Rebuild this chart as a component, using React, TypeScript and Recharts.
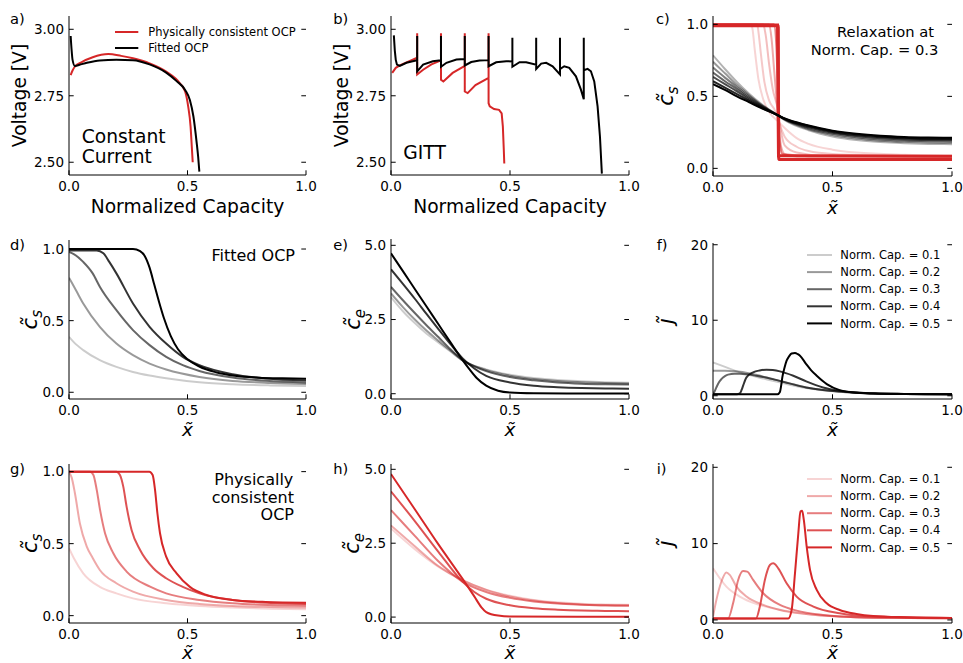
import React from 'react';
import { LineChart, Line, XAxis, YAxis, Legend } from 'recharts';

type P = [number, number];

const RED = '#d62728';
const BLACK = '#000000';
const FONT = '"DejaVu Sans", sans-serif';

// ---------- panel a: constant current ----------
const A_PHYS: P[] = [[0.007,2.828],[0.015,2.845],[0.025,2.86],[0.05,2.875],[0.1,2.895],[0.166,2.907],[0.22,2.9],[0.27,2.891],[0.34,2.872],[0.41,2.841],[0.468,2.797],[0.49,2.766],[0.503,2.709],[0.513,2.634],[0.518,2.56],[0.522,2.5]];
const A_FITTED: P[] = [[0.007,2.975],[0.011,2.922],[0.015,2.885],[0.025,2.862],[0.05,2.868],[0.075,2.874],[0.13,2.883],[0.2,2.885],[0.27,2.884],[0.34,2.868],[0.41,2.837],[0.454,2.805],[0.49,2.772],[0.51,2.734],[0.525,2.672],[0.539,2.571],[0.545,2.52],[0.55,2.465]];

// ---------- panel b: GITT ----------
const B_PHYS: P[] = [[0.005,2.836],[0.02,2.855],[0.037,2.864],[0.077,2.88],[0.11,2.893],[0.11,2.985],[0.11,2.83],[0.135,2.848],[0.17,2.868],[0.21,2.883],[0.21,2.985],[0.21,2.81],[0.22,2.804],[0.259,2.836],[0.31,2.862],[0.31,2.985],[0.31,2.766],[0.322,2.76],[0.355,2.79],[0.41,2.817],[0.41,2.985],[0.41,2.722],[0.415,2.71],[0.433,2.7],[0.454,2.697],[0.465,2.684],[0.47,2.634],[0.474,2.545],[0.476,2.495]];
const B_FITTED: P[] = [[0.012,2.977],[0.016,2.92],[0.02,2.885],[0.025,2.867],[0.037,2.862],[0.065,2.874],[0.11,2.884],[0.11,2.975],[0.11,2.842],[0.135,2.867],[0.176,2.88],[0.21,2.884],[0.21,2.975],[0.21,2.859],[0.233,2.874],[0.275,2.886],[0.31,2.888],[0.31,2.975],[0.31,2.864],[0.337,2.877],[0.372,2.883],[0.41,2.884],[0.41,2.975],[0.41,2.861],[0.442,2.876],[0.484,2.88],[0.51,2.879],[0.51,2.968],[0.51,2.859],[0.54,2.876],[0.568,2.876],[0.61,2.867],[0.61,2.968],[0.61,2.851],[0.631,2.871],[0.652,2.874],[0.679,2.861],[0.71,2.83],[0.71,2.968],[0.71,2.85],[0.728,2.861],[0.749,2.855],[0.777,2.823],[0.798,2.773],[0.81,2.737],[0.81,2.968],[0.81,2.846],[0.826,2.851],[0.84,2.842],[0.854,2.804],[0.868,2.71],[0.878,2.596],[0.886,2.457]];

// ---------- panel c: relaxation at 0.3 ----------
const C_GRAY_1: P[] = [[0,0.785],[0.05,0.69],[0.1,0.6],[0.15,0.52],[0.2,0.45],[0.27,0.37],[0.3,0.335],[0.4,0.265],[0.5,0.222],[0.6,0.197],[0.7,0.183],[0.8,0.175],[0.9,0.17],[1,0.168]];
const C_GRAY_2: P[] = [[0,0.74],[0.05,0.66],[0.1,0.58],[0.15,0.51],[0.2,0.445],[0.27,0.37],[0.3,0.338],[0.4,0.272],[0.5,0.232],[0.6,0.207],[0.7,0.192],[0.8,0.184],[0.9,0.18],[1,0.178]];
const C_GRAY_3: P[] = [[0,0.7],[0.05,0.63],[0.1,0.565],[0.15,0.5],[0.2,0.44],[0.27,0.37],[0.3,0.34],[0.4,0.279],[0.5,0.24],[0.6,0.216],[0.7,0.201],[0.8,0.193],[0.9,0.189],[1,0.187]];
const C_GRAY_4: P[] = [[0,0.665],[0.05,0.605],[0.1,0.55],[0.15,0.49],[0.2,0.435],[0.27,0.37],[0.3,0.342],[0.4,0.285],[0.5,0.247],[0.6,0.224],[0.7,0.209],[0.8,0.201],[0.9,0.197],[1,0.195]];
const C_GRAY_5: P[] = [[0,0.635],[0.05,0.585],[0.1,0.535],[0.15,0.48],[0.2,0.43],[0.27,0.37],[0.3,0.343],[0.4,0.29],[0.5,0.253],[0.6,0.23],[0.7,0.216],[0.8,0.208],[0.9,0.203],[1,0.201]];
const C_GRAY_6: P[] = [[0,0.605],[0.05,0.56],[0.1,0.515],[0.15,0.47],[0.2,0.425],[0.27,0.37],[0.3,0.345],[0.4,0.295],[0.5,0.258],[0.6,0.236],[0.7,0.222],[0.8,0.213],[0.9,0.208],[1,0.206]];
const C_GRAY_7: P[] = [[0,0.585],[0.05,0.545],[0.1,0.5],[0.15,0.46],[0.2,0.42],[0.27,0.37],[0.3,0.346],[0.4,0.298],[0.5,0.262],[0.6,0.24],[0.7,0.226],[0.8,0.218],[0.9,0.214],[1,0.212]];
const C_RED_1: P[] = [[0,1],[0.16,1],[0.165,0.97],[0.175,0.82],[0.19,0.62],[0.21,0.48],[0.24,0.38],[0.27,0.33],[0.3,0.28],[0.35,0.21],[0.4,0.17],[0.5,0.13],[0.6,0.11],[0.8,0.095],[1,0.09]];
const C_RED_2: P[] = [[0,1],[0.185,1],[0.19,0.95],[0.2,0.8],[0.215,0.6],[0.235,0.47],[0.26,0.4],[0.28,0.3],[0.3,0.22],[0.35,0.15],[0.4,0.12],[0.5,0.1],[0.7,0.09],[1,0.085]];
const C_RED_3: P[] = [[0,1],[0.21,1],[0.22,0.93],[0.235,0.72],[0.25,0.55],[0.27,0.42],[0.285,0.25],[0.3,0.16],[0.35,0.11],[0.45,0.09],[1,0.082]];
const C_RED_4: P[] = [[0,1],[0.235,1],[0.245,0.9],[0.255,0.7],[0.265,0.5],[0.275,0.3],[0.285,0.15],[0.3,0.1],[0.4,0.085],[1,0.08]];
const C_RED_5: P[] = [[0,1],[0.255,1],[0.265,0.85],[0.272,0.5],[0.278,0.2],[0.29,0.1],[0.35,0.085],[1,0.085]];
const C_RED_6: P[] = [[0,0.995],[0.27,0.995],[0.272,0.5],[0.274,0.088],[0.3,0.087],[1,0.085]];
const C_RED_7: P[] = [[0,0.99],[0.273,0.99],[0.275,0.062],[1,0.062]];

// ---------- panel d: fitted OCP, c_s ----------
const D_1: P[] = [[0,0.387],[0.02,0.35],[0.06,0.294],[0.13,0.224],[0.2,0.177],[0.27,0.142],[0.34,0.117],[0.41,0.098],[0.55,0.07],[0.69,0.056],[0.85,0.048],[1,0.044]];
const D_2: P[] = [[0,0.8],[0.03,0.71],[0.06,0.62],[0.13,0.457],[0.2,0.34],[0.27,0.259],[0.34,0.2],[0.41,0.159],[0.55,0.107],[0.69,0.079],[0.85,0.065],[1,0.058]];
const D_3: P[] = [[0,0.98],[0.02,0.965],[0.06,0.91],[0.1,0.83],[0.13,0.737],[0.2,0.573],[0.27,0.434],[0.34,0.329],[0.41,0.247],[0.48,0.189],[0.55,0.149],[0.69,0.103],[0.83,0.08],[1,0.068]];
const D_4: P[] = [[0,0.99],[0.117,0.99],[0.145,0.97],[0.17,0.91],[0.2,0.83],[0.27,0.62],[0.34,0.457],[0.41,0.34],[0.48,0.247],[0.55,0.189],[0.69,0.126],[0.83,0.096],[1,0.082]];
const D_5: P[] = [[0,1],[0.27,1],[0.3,0.985],[0.32,0.95],[0.34,0.87],[0.36,0.75],[0.38,0.63],[0.4,0.52],[0.43,0.39],[0.46,0.3],[0.5,0.23],[0.55,0.18],[0.62,0.14],[0.7,0.115],[0.8,0.102],[0.9,0.097],[1,0.095]];

// ---------- panel e: fitted OCP, c_e ----------
const E_1: P[] = [[0,3.25],[0.05,2.78],[0.1,2.38],[0.15,2.02],[0.2,1.72],[0.25,1.42],[0.3,1.12],[0.4,0.82],[0.5,0.64],[0.6,0.53],[0.7,0.46],[0.8,0.42],[0.9,0.39],[1,0.37]];
const E_2: P[] = [[0,3.38],[0.05,2.92],[0.1,2.5],[0.15,2.12],[0.2,1.78],[0.25,1.45],[0.3,1.13],[0.4,0.8],[0.5,0.61],[0.6,0.5],[0.7,0.43],[0.8,0.39],[0.9,0.36],[1,0.345]];
const E_3: P[] = [[0,3.6],[0.05,3.15],[0.1,2.72],[0.15,2.3],[0.2,1.9],[0.25,1.5],[0.3,1.14],[0.35,0.92],[0.4,0.76],[0.5,0.56],[0.6,0.45],[0.7,0.38],[0.8,0.34],[0.9,0.32],[1,0.31]];
const E_4: P[] = [[0,4.19],[0.05,3.7],[0.1,3.2],[0.15,2.68],[0.2,2.17],[0.25,1.67],[0.3,1.2],[0.35,0.85],[0.4,0.6],[0.5,0.38],[0.6,0.27],[0.7,0.22],[0.8,0.19],[0.9,0.175],[1,0.17]];
const E_5: P[] = [[0,4.73],[0.05,4.13],[0.1,3.53],[0.15,2.93],[0.2,2.33],[0.25,1.73],[0.3,1.14],[0.33,0.82],[0.36,0.53],[0.4,0.27],[0.45,0.1],[0.5,0.04],[0.6,0.015],[0.8,0.005],[1,0.005]];

// ---------- panel f: fitted OCP, j ----------
const F_1: P[] = [[0,4.42],[0.056,3.76],[0.112,3.1],[0.18,2.52],[0.25,1.99],[0.32,1.46],[0.39,1.02],[0.46,0.73],[0.53,0.53],[0.67,0.31],[0.8,0.24],[1,0.2]];
const F_2: P[] = [[0,3.3],[0.05,3.3],[0.08,3.25],[0.112,3.19],[0.18,2.79],[0.25,2.21],[0.32,1.64],[0.39,1.1],[0.46,0.75],[0.53,0.53],[0.67,0.31],[0.8,0.24],[1,0.2]];
const F_3: P[] = [[0,0.2],[0.007,0.6],[0.014,1.1],[0.025,1.8],[0.035,2.2],[0.05,2.6],[0.063,2.8],[0.09,2.9],[0.112,2.9],[0.18,2.65],[0.25,2.2],[0.32,1.64],[0.39,1.1],[0.46,0.76],[0.53,0.55],[0.67,0.31],[0.8,0.24],[1,0.2]];
const F_4: P[] = [[0,0.2],[0.1,0.2],[0.112,0.3],[0.12,0.8],[0.126,1.33],[0.14,2.43],[0.168,3.1],[0.195,3.35],[0.224,3.45],[0.25,3.4],[0.28,3.23],[0.336,2.65],[0.39,1.9],[0.46,1.1],[0.53,0.66],[0.6,0.42],[0.67,0.32],[0.8,0.24],[1,0.2]];
const F_5: P[] = [[0,0.2],[0.27,0.2],[0.28,0.5],[0.285,1.3],[0.29,2.43],[0.3,3.8],[0.308,4.65],[0.318,5.2],[0.329,5.6],[0.343,5.66],[0.355,5.5],[0.364,5.3],[0.39,4.2],[0.41,3.4],[0.434,2.65],[0.476,1.55],[0.53,0.75],[0.6,0.4],[0.7,0.27],[0.8,0.22],[1,0.2]];

// ---------- panel g: physically consistent OCP, c_s ----------
const G_1: P[] = [[0,0.468],[0.02,0.4],[0.06,0.294],[0.13,0.2],[0.2,0.155],[0.27,0.12],[0.41,0.086],[0.55,0.067],[0.69,0.056],[0.85,0.048],[1,0.044]];
const G_2: P[] = [[0,0.995],[0.011,0.96],[0.025,0.85],[0.046,0.64],[0.075,0.48],[0.1,0.4],[0.13,0.317],[0.2,0.225],[0.27,0.167],[0.41,0.109],[0.55,0.081],[0.69,0.067],[0.85,0.06],[1,0.056]];
const G_3: P[] = [[0,1],[0.089,1],[0.103,0.977],[0.117,0.873],[0.131,0.734],[0.152,0.572],[0.187,0.433],[0.243,0.306],[0.342,0.201],[0.41,0.155],[0.55,0.109],[0.69,0.086],[0.85,0.074],[1,0.069]];
const G_4: P[] = [[0,1],[0.2,1],[0.215,0.977],[0.229,0.896],[0.243,0.757],[0.264,0.595],[0.3,0.456],[0.356,0.329],[0.41,0.26],[0.48,0.2],[0.55,0.155],[0.69,0.109],[0.85,0.088],[1,0.081]];
const G_5: P[] = [[0,1],[0.339,1],[0.353,0.977],[0.363,0.873],[0.373,0.711],[0.384,0.572],[0.41,0.41],[0.454,0.294],[0.51,0.2],[0.58,0.143],[0.69,0.109],[0.83,0.095],[1,0.09]];

// ---------- panel h: physically consistent OCP, c_e ----------
const H_1: P[] = [[0,3.0],[0.1,2.3],[0.2,1.7],[0.3,1.25],[0.4,0.93],[0.5,0.72],[0.6,0.58],[0.7,0.5],[0.8,0.45],[0.9,0.43],[1,0.42]];
const H_2: P[] = [[0,3.1],[0.1,2.4],[0.2,1.72],[0.3,1.25],[0.4,0.92],[0.5,0.7],[0.6,0.56],[0.7,0.48],[0.8,0.43],[0.9,0.41],[1,0.4]];
const H_3: P[] = [[0,3.62],[0.1,2.75],[0.2,1.88],[0.3,1.2],[0.4,0.85],[0.5,0.65],[0.6,0.53],[0.7,0.46],[0.8,0.42],[0.9,0.39],[1,0.38]];
const H_4: P[] = [[0,4.25],[0.1,3.25],[0.2,2.2],[0.3,1.2],[0.35,0.85],[0.4,0.62],[0.5,0.4],[0.6,0.3],[0.7,0.25],[0.8,0.22],[0.9,0.21],[1,0.2]];
const H_5: P[] = [[0,4.84],[0.1,3.65],[0.2,2.45],[0.3,1.3],[0.35,0.7],[0.38,0.33],[0.4,0.17],[0.45,0.05],[0.5,0.02],[1,0.01]];

// ---------- panel i: physically consistent OCP, j ----------
const I_1: P[] = [[0,6.77],[0.056,4.37],[0.112,3.06],[0.18,2.1],[0.25,1.53],[0.32,1.09],[0.39,0.79],[0.53,0.44],[0.67,0.3],[1,0.22]];
const I_2: P[] = [[0,0.44],[0.014,2.6],[0.035,5.0],[0.056,6.2],[0.07,5.9],[0.098,4.37],[0.14,3.06],[0.21,1.97],[0.28,1.31],[0.39,0.79],[0.53,0.44],[0.67,0.3],[1,0.22]];
const I_3: P[] = [[0,0.2],[0.063,0.2],[0.084,2.18],[0.105,5.2],[0.126,6.4],[0.143,6.33],[0.168,5.24],[0.21,3.5],[0.28,1.97],[0.35,1.22],[0.46,0.66],[0.6,0.35],[1,0.22]];
const I_4: P[] = [[0,0.2],[0.18,0.2],[0.196,1.75],[0.217,5.24],[0.238,7.2],[0.252,7.42],[0.273,6.77],[0.308,4.8],[0.35,3.06],[0.42,1.75],[0.53,0.87],[0.67,0.44],[1,0.26]];
const I_5: P[] = [[0,0.2],[0.315,0.2],[0.329,1.31],[0.343,6.1],[0.357,11.35],[0.366,14.2],[0.373,14.3],[0.38,13.1],[0.392,9.6],[0.406,6.55],[0.434,3.93],[0.476,2.18],[0.53,1.31],[0.6,0.79],[0.67,0.52],[0.81,0.35],[1,0.26]];

// ---------- tick values & labels ----------
const X_TICKS = [0, 0.5, 1];
const V_TICKS = [2.5, 2.75, 3.0];
const CS_TICKS = [0, 0.5, 1];
const CE_TICKS = [0, 2.5, 5];
const J_TICKS = [0, 10, 20];
const CAP_LABELS = ['Norm. Cap. = 0.1', 'Norm. Cap. = 0.2', 'Norm. Cap. = 0.3', 'Norm. Cap. = 0.4', 'Norm. Cap. = 0.5'];
const CAP_ALPHAS = [0.2, 0.4, 0.6, 0.8, 1];

interface Series { data: P[]; color: string; opacity?: number; width?: number }
interface LegendItem { label: string; color: string; opacity: number }
interface LegendSpec { x0: number; y0: number; dy: number; len: number; gap: number; items: LegendItem[] }
interface PanelSpec {
  id: string; L: number; T: number; W: number; H: number;
  yDomain: [number, number]; yTicks: number[]; yDigits: number;
  curve: 'linear' | 'monotone';
  series: Series[]; legend?: LegendSpec;
}

const family = (arrs: P[][], color: string): Series[] =>
  arrs.map((d, i) => ({ data: d, color, opacity: CAP_ALPHAS[i] }));

const capLegend = (x0: number, y0: number, color: string): LegendSpec => ({
  x0, y0, dy: 17.1, len: 25, gap: 8.3,
  items: CAP_LABELS.map((l, i) => ({ label: l, color, opacity: CAP_ALPHAS[i] })),
});

const PANELS: PanelSpec[] = [
  {
    id: 'a', L: 69, T: 16, W: 237, H: 159, yDomain: [2.452, 3.05], yTicks: V_TICKS, yDigits: 2, curve: 'monotone',
    series: [{ data: A_PHYS, color: RED }, { data: A_FITTED, color: BLACK }],
    legend: {
      x0: 115, y0: 32.3, dy: 16, len: 23.3, gap: 10,
      items: [
        { label: 'Physically consistent OCP', color: RED, opacity: 1 },
        { label: 'Fitted OCP', color: BLACK, opacity: 1 },
      ],
    },
  },
  {
    id: 'b', L: 391, T: 16, W: 238, H: 159, yDomain: [2.452, 3.05], yTicks: V_TICKS, yDigits: 2, curve: 'linear',
    series: [{ data: B_PHYS, color: RED }, { data: B_FITTED, color: BLACK }],
  },
  {
    id: 'c', L: 713, T: 16, W: 239, H: 160, yDomain: [-0.053, 1.058], yTicks: CS_TICKS, yDigits: 1, curve: 'monotone',
    series: [
      { data: C_RED_1, color: RED, opacity: 0.2 },
      { data: C_RED_2, color: RED, opacity: 0.25 },
      { data: C_RED_3, color: RED, opacity: 0.3 },
      { data: C_RED_4, color: RED, opacity: 0.4 },
      { data: C_RED_5, color: RED, opacity: 0.6 },
      { data: C_RED_6, color: RED, opacity: 1, width: 3 },
      { data: C_RED_7, color: RED, opacity: 1, width: 3 },
      { data: C_GRAY_1, color: BLACK, opacity: 0.3 },
      { data: C_GRAY_2, color: BLACK, opacity: 0.4 },
      { data: C_GRAY_3, color: BLACK, opacity: 0.5 },
      { data: C_GRAY_4, color: BLACK, opacity: 0.6 },
      { data: C_GRAY_5, color: BLACK, opacity: 0.7 },
      { data: C_GRAY_6, color: BLACK, opacity: 0.85 },
      { data: C_GRAY_7, color: BLACK, opacity: 1 },
    ],
  },
  {
    id: 'd', L: 69, T: 240, W: 237, H: 159, yDomain: [-0.047, 1.063], yTicks: CS_TICKS, yDigits: 1, curve: 'monotone',
    series: family([D_1, D_2, D_3, D_4, D_5], BLACK),
  },
  {
    id: 'e', L: 391, T: 239, W: 238, H: 160, yDomain: [-0.178, 5.213], yTicks: CE_TICKS, yDigits: 1, curve: 'monotone',
    series: family([E_1, E_2, E_3, E_4, E_5], BLACK),
  },
  {
    id: 'f', L: 713, T: 243, W: 239, H: 156, yDomain: [-0.43, 20.23], yTicks: J_TICKS, yDigits: 0, curve: 'monotone',
    series: family([F_1, F_2, F_3, F_4, F_5], BLACK),
    legend: capLegend(806.7, 255, BLACK),
  },
  {
    id: 'g', L: 69, T: 464, W: 237, H: 159, yDomain: [-0.051, 1.053], yTicks: CS_TICKS, yDigits: 1, curve: 'monotone',
    series: family([G_1, G_2, G_3, G_4, G_5], RED),
  },
  {
    id: 'h', L: 391, T: 464, W: 238, H: 159, yDomain: [-0.2, 5.18], yTicks: CE_TICKS, yDigits: 1, curve: 'monotone',
    series: family([H_1, H_2, H_3, H_4, H_5], RED),
  },
  {
    id: 'i', L: 713, T: 464, W: 239, H: 159, yDomain: [-0.4, 20.43], yTicks: J_TICKS, yDigits: 0, curve: 'monotone',
    series: family([I_1, I_2, I_3, I_4, I_5], RED),
    legend: capLegend(806.7, 479.3, RED),
  },
];

const ML = 70, MT = 12, MR = 18, MB = 40;
const TICK = 4.7;

const toPts = (a: P[]) => a.map(([x, y]) => ({ x, y }));

function Panel({ p }: { p: PanelSpec }) {
  const left = p.L - ML;
  const top = p.T - MT;
  const width = p.W + ML + MR;
  const height = p.H + MT + MB;

  const xTick = (props: any) => {
    const { x, y, payload } = props;
    return (
      <g>
        <line x1={x} x2={x} y1={y} y2={y - TICK} stroke="#000" strokeWidth={1} />
        <text x={x} y={y + 15.5} textAnchor="middle" fontSize={13.5} fontFamily={FONT} fill="#000">
          {Number(payload.value).toFixed(1)}
        </text>
      </g>
    );
  };
  const yTick = (props: any) => {
    const { x, y, payload } = props;
    return (
      <g>
        <line x1={x} x2={x + TICK} y1={y} y2={y} stroke="#000" strokeWidth={1} />
        <line x1={x + p.W} x2={x + p.W - TICK} y1={y} y2={y} stroke="#000" strokeWidth={1} />
        <text x={x - 5} y={y} dy="0.36em" textAnchor="end" fontSize={13.5} fontFamily={FONT} fill="#000">
          {Number(payload.value).toFixed(p.yDigits)}
        </text>
      </g>
    );
  };

  const lg = p.legend;
  const legendContent = () => {
    if (!lg) return null;
    const w = lg.len + lg.gap + 130;
    const h = lg.items.length * lg.dy + 8;
    return (
      <svg width={w + 4} height={h} style={{ display: 'block', overflow: 'visible' }}>
        {lg.items.map((it, i) => (
          <g key={it.label}>
            <line x1={2} x2={2 + lg.len} y1={8 + i * lg.dy} y2={8 + i * lg.dy}
              stroke={it.color} strokeOpacity={it.opacity} strokeWidth={2} />
            <text x={2 + lg.len + lg.gap} y={8 + i * lg.dy} dy="0.36em" fontSize={11.5}
              fontFamily={FONT} fill="#000">{it.label}</text>
          </g>
        ))}
      </svg>
    );
  };

  return (
    <div style={{ position: 'absolute', left, top, width, height }}>
      <LineChart width={width} height={height} margin={{ top: MT, right: MR, bottom: 0, left: 0 }}>
        <XAxis xAxisId={0} type="number" dataKey="x" domain={[0, 1]} ticks={X_TICKS} interval={0}
          allowDataOverflow height={MB} tickSize={0} tickMargin={0} tickLine={false}
          axisLine={{ stroke: '#000', strokeWidth: 1 }} tick={xTick} />
        <XAxis xAxisId="top" orientation="top" type="number" dataKey="x" domain={[0, 1]} height={0}
          tick={false} tickLine={false} axisLine={{ stroke: '#000', strokeWidth: 1 }} allowDataOverflow />
        <YAxis yAxisId={0} type="number" domain={p.yDomain} ticks={p.yTicks} interval={0}
          allowDataOverflow width={ML} tickSize={0} tickMargin={0} tickLine={false}
          axisLine={{ stroke: '#000', strokeWidth: 1 }} tick={yTick} />
        <YAxis yAxisId="right" orientation="right" type="number" domain={p.yDomain} width={0}
          tick={false} tickLine={false} axisLine={{ stroke: '#000', strokeWidth: 1 }} allowDataOverflow />
        {lg && (
          <Legend layout="vertical" align="center" verticalAlign="middle" content={legendContent}
            wrapperStyle={{ left: lg.x0 - 2 - left, top: lg.y0 - 8 - top, width: 'auto', height: 'auto' }} />
        )}
        {p.series.map((s, i) => (
          <Line key={p.id + i} xAxisId={0} yAxisId={0} data={toPts(s.data)} dataKey="y"
            name={p.id + '-' + i} type={p.curve} dot={false} activeDot={false}
            stroke={s.color} strokeOpacity={s.opacity ?? 1} strokeWidth={s.width ?? 2}
            isAnimationActive={false} legendType="none" />
        ))}
      </LineChart>
    </div>
  );
}

interface TextSpec { t: string; x: number; y: number; size: number; anchor?: 'start' | 'middle' | 'end' }

const PANEL_LETTERS: TextSpec[] = [
  { t: 'a)', x: 10, y: 24, size: 14.7 }, { t: 'b)', x: 333.3, y: 24, size: 14.7 }, { t: 'c)', x: 656, y: 24, size: 14.7 },
  { t: 'd)', x: 10, y: 250, size: 14.7 }, { t: 'e)', x: 333.3, y: 250, size: 14.7 }, { t: 'f)', x: 656.7, y: 250, size: 14.7 },
  { t: 'g)', x: 10, y: 474, size: 14.7 }, { t: 'h)', x: 333.3, y: 474, size: 14.7 }, { t: 'i)', x: 656.7, y: 474, size: 14.7 },
];

const ANNOTATIONS: TextSpec[] = [
  { t: 'Constant', x: 81.7, y: 142.7, size: 18.7 },
  { t: 'Current', x: 81.7, y: 163.3, size: 18.7 },
  { t: 'GITT', x: 403.3, y: 159, size: 18.7 },
  { t: 'Relaxation at', x: 934, y: 36.7, size: 14.7, anchor: 'end' },
  { t: 'Norm. Cap. = 0.3', x: 938.3, y: 55, size: 14.7, anchor: 'end' },
  { t: 'Fitted OCP', x: 295, y: 260.7, size: 16, anchor: 'end' },
  { t: 'Physically', x: 293.3, y: 485, size: 16, anchor: 'end' },
  { t: 'consistent', x: 294, y: 502.7, size: 16, anchor: 'end' },
  { t: 'OCP', x: 294, y: 520, size: 16, anchor: 'end' },
  { t: 'Normalized Capacity', x: 187.5, y: 213, size: 18.7, anchor: 'middle' },
  { t: 'Normalized Capacity', x: 510, y: 213, size: 18.7, anchor: 'middle' },
];

const X_TILDE_POS: [number, number][] = [[832.5, 214], [187.5, 436], [510, 436], [832.5, 436], [187.5, 658.6], [510, 658.6], [832.5, 658.6]];
const VOLT_POS: [number, number][] = [[26, 95.5], [348.3, 95.5]];
const CS_POS: [number, number][] = [[673, 96], [36.7, 319.7], [37, 543.3]];
const CE_POS: [number, number][] = [[360, 319.3], [359.3, 543.3]];
const J_POS: [number, number][] = [[673, 321], [673, 543.3]];

const MATH = 21;
const XMATH = 18.5;

function Overlay() {
  return (
    <svg width={963} height={663} style={{ position: 'absolute', left: 0, top: 0, pointerEvents: 'none' }}>
      {[...PANEL_LETTERS, ...ANNOTATIONS].map((s, i) => (
        <text key={'t' + i} x={s.x} y={s.y} fontSize={s.size} fontFamily={FONT} fill="#000"
          textAnchor={s.anchor ?? 'start'}>{s.t}</text>
      ))}
      {X_TILDE_POS.map(([x, y], i) => (
        <text key={'x' + i} x={x} y={y} fontSize={XMATH} fontStyle="italic" fontFamily={FONT}
          fill="#000" textAnchor="middle">{'x\u0303'}</text>
      ))}
      {VOLT_POS.map(([x, y], i) => (
        <text key={'v' + i} x={x} y={y} fontSize={18.7} fontFamily={FONT} fill="#000" textAnchor="middle"
          transform={`rotate(-90 ${x} ${y})`}>Voltage [V]</text>
      ))}
      {CS_POS.map(([x, y], i) => (
        <text key={'cs' + i} x={x} y={y} fontSize={MATH} fontStyle="italic" fontFamily={FONT} fill="#000"
          textAnchor="middle" transform={`rotate(-90 ${x} ${y})`}>
          {'c\u0303'}<tspan fontSize={15} dy={5}>s</tspan>
        </text>
      ))}
      {CE_POS.map(([x, y], i) => (
        <text key={'ce' + i} x={x} y={y} fontSize={MATH} fontStyle="italic" fontFamily={FONT} fill="#000"
          textAnchor="middle" transform={`rotate(-90 ${x} ${y})`}>
          {'c\u0303'}<tspan fontSize={15} dy={5}>e</tspan>
        </text>
      ))}
      {J_POS.map(([x, y], i) => (
        <text key={'j' + i} x={x} y={y} fontSize={MATH} fontStyle="italic" fontFamily={FONT} fill="#000"
          textAnchor="middle" transform={`rotate(-90 ${x} ${y})`}>{'j\u0303'}</text>
      ))}
    </svg>
  );
}

export default function App() {
  return (
    <div style={{ position: 'absolute', left: 0, top: 0, width: 963, height: 663, background: '#fff', fontFamily: FONT, overflow: 'hidden' }}>
      {PANELS.map((p) => <Panel key={p.id} p={p} />)}
      <Overlay />
    </div>
  );
}
